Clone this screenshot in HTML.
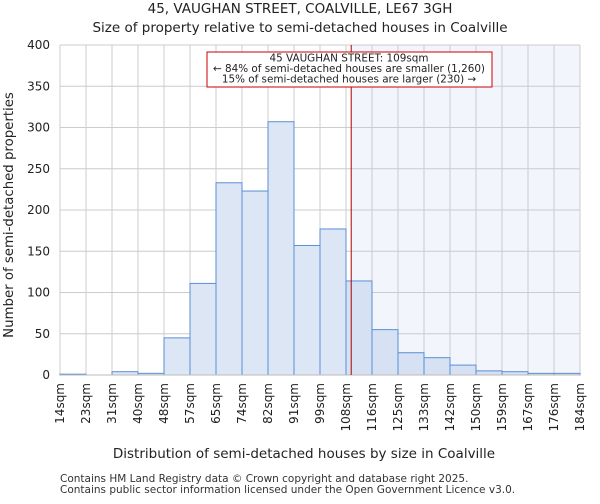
<!DOCTYPE html>
<html><head><meta charset="utf-8"><style>
body{margin:0;background:#fff;font-family:"DejaVu Sans","Liberation Sans",sans-serif}
</style></head><body>
<svg width="600" height="500" xmlns="http://www.w3.org/2000/svg" font-family="DejaVu Sans, Liberation Sans, sans-serif">
<text x="300" y="13" text-anchor="middle" font-size="13.5" fill="#222">45, VAUGHAN STREET, COALVILLE, LE67 3GH</text>
<text x="300" y="32" text-anchor="middle" font-size="13.5" fill="#222">Size of property relative to semi-detached houses in Coalville</text>
<g id="plot"></g>
<text x="304" y="458" text-anchor="middle" font-size="13.5" fill="#222">Distribution of semi-detached houses by size in Coalville</text>
<text transform="translate(13,215) rotate(-90)" text-anchor="middle" font-size="13.3" fill="#222">Number of semi-detached properties</text>
<text x="60" y="482" font-size="10.5" fill="#333">Contains HM Land Registry data © Crown copyright and database right 2025.</text>
<text x="60" y="493" font-size="10.5" fill="#333">Contains public sector information licensed under the Open Government Licence v3.0.</text>
</svg>
<script>
const categories=["14sqm","23sqm","31sqm","40sqm","48sqm","57sqm","65sqm","74sqm","82sqm","91sqm","99sqm","108sqm","116sqm","125sqm","133sqm","142sqm","150sqm","159sqm","167sqm","176sqm","184sqm"];
const counts=[1,0,4,2,45,111,233,223,307,157,177,114,55,27,21,12,5,4,2,2];
const yTicks=[0,50,100,150,200,250,300,350,400];
const propertyBin=11.2;
const NS="http://www.w3.org/2000/svg";
const g=document.getElementById('plot');
const X0=60,X1=580,Y0=375,Y1=45,N=counts.length,bw=(X1-X0)/N;
const xs=i=>X0+i*bw;
const ys=v=>Y0-(v/400)*(Y0-Y1);
function mk(t,a){const e=document.createElementNS(NS,t);for(const k in a)e.setAttribute(k,a[k]);g.appendChild(e);return e;}
const px=xs(propertyBin);
let e=mk('rect',{x:px,y:Y1,width:X1-px,height:Y0-Y1,fill:'#f2f5fc'});


yTicks.forEach(t=>{
 let l=mk('line',{x1:X0,x2:X1,y1:ys(t),y2:ys(t),stroke:'#ccc','stroke-width':1});
 
 
 let tx=mk('text',{x:X0-10,y:ys(t)+4,'text-anchor':'end','font-size':12,fill:'#222'});
 tx.textContent=t;
 
 
});
categories.forEach((c,i)=>{
 let l=mk('line',{x1:xs(i),x2:xs(i),y1:Y1,y2:Y0,stroke:'#ccc','stroke-width':1});
 
 
 let tx=mk('text',{transform:`translate(${xs(i)+4},${Y0+8}) rotate(-90)`,'text-anchor':'end','font-size':12,fill:'#222'});
 tx.textContent=c;
 
 
});
counts.forEach((v,i)=>{
 let r=mk('rect',{x:xs(i),y:ys(v),width:bw,height:Y0-ys(v),fill:i+1>propertyBin?'#d6e1f3':'#dce6f5',stroke:'#5a8fd6','stroke-width':1});
 
 
});
let ax=mk('line',{x1:X0,x2:X1,y1:Y0,y2:Y0,stroke:'#bbb'});


let ml=mk('line',{x1:px,x2:px,y1:Y1,y2:Y0,stroke:'#a00','stroke-width':1});


let bx=mk('rect',{x:207,y:52,width:285,height:35,fill:'#fff',stroke:'#c00','stroke-width':1});


["45 VAUGHAN STREET: 109sqm","← 84% of semi-detached houses are smaller (1,260)","15% of semi-detached houses are larger (230) →"].forEach((s,i)=>{
 let t=mk('text',{x:349,y:61.5+i*10.5,'text-anchor':'middle','font-size':10.4,fill:'#222'});
 t.textContent=s;
 
 
});
</script>
</body></html>
